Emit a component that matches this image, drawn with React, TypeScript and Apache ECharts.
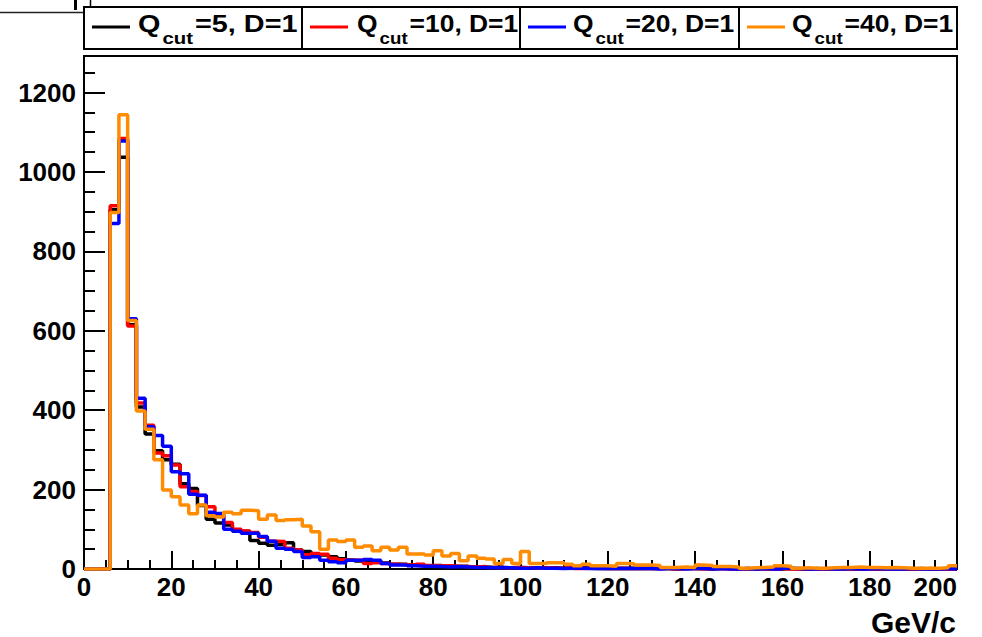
import React, { useEffect, useRef } from "react";
import * as echarts from "echarts";

// Histogram binning (GeV/c)
const X_MIN = 0;
const X_MAX = 200;
const BIN_WIDTH = 2;
const Y_MAX = 1292;

const legendLabels = ["=5, D=1", "=10, D=1", "=20, D=1", "=40, D=1"];
const seriesColors = ["#000000", "#ff0000", "#0000ff", "#ff8c00"];

// Bin contents, 100 bins of width 2 starting at 0
const qcut5 = [
  0, 0, 0, 905, 1037, 615, 408, 340, 298, 275,
  264, 215, 203, 160, 125, 116, 111, 98, 95, 72,
  65, 60, 62, 66, 48, 44, 35, 35, 31, 26,
  22, 20, 18, 17, 15, 12, 12, 10, 10, 8,
  9, 7, 6, 7, 5, 5, 4, 5, 3, 4,
  3, 3, 2, 3, 2, 2, 3, 2, 1, 2,
  1, 2, 1, 1, 2, 1, 1, 0, 1, 1,
  1, 0, 1, 1, 0, 1, 0, 1, 0, 0,
  1, 0, 0, 1, 0, 0, 1, 0, 0, 0,
  0, 1, 0, 0, 0, 1, 0, 0, 0, 0,
];

const qcut10 = [
  0, 0, 0, 915, 1084, 612, 418, 362, 292, 285,
  262, 207, 195, 185, 157, 135, 117, 100, 96, 92,
  80, 70, 69, 52, 48, 36, 39, 37, 27, 23,
  22, 22, 14, 16, 14, 12, 11, 10, 12, 9,
  8, 8, 7, 6, 5, 6, 4, 4, 3, 4,
  3, 2, 3, 2, 2, 3, 1, 2, 2, 1,
  2, 1, 1, 2, 1, 1, 1, 0, 1, 1,
  0, 1, 1, 0, 1, 0, 1, 0, 0, 1,
  0, 0, 1, 0, 0, 1, 0, 0, 1, 0,
  0, 0, 1, 0, 0, 0, 1, 0, 0, 0,
];

const qcut20 = [
  0, 0, 0, 870, 1078, 630, 430, 358, 336, 309,
  245, 240, 188, 186, 143, 140, 100, 95, 90, 90,
  82, 70, 52, 50, 44, 29, 31, 22, 18, 16,
  22, 22, 24, 22, 14, 10, 10, 8, 7, 7,
  6, 5, 6, 5, 4, 4, 3, 4, 3, 2,
  2, 3, 2, 2, 1, 2, 2, 1, 1, 2,
  1, 1, 2, 1, 1, 0, 1, 1, 0, 1,
  1, 0, 1, 0, 0, 1, 0, 1, 0, 0,
  2, 1, 0, 0, 1, 0, 0, 1, 0, 0,
  1, 0, 0, 0, 1, 0, 0, 0, 1, 0,
];

const qcut40 = [
  0, 0, 0, 898, 1144, 626, 398, 352, 275, 199,
  182, 161, 139, 161, 134, 131, 143, 139, 148, 147,
  125, 136, 122, 124, 125, 108, 94, 50, 73, 69,
  73, 55, 58, 46, 55, 48, 55, 38, 38, 35,
  46, 33, 39, 21, 33, 27, 25, 14, 24, 14,
  44, 14, 14, 16, 16, 12, 8, 12, 8, 8,
  7, 14, 13, 10, 10, 9, 4, 4, 5, 4,
  10, 9, 6, 6, 5, 2, 3, 4, 5, 8,
  7, 2, 3, 2, 2, 3, 4, 4, 5, 4,
  4, 3, 4, 3, 2, 2, 2, 2, 3, 8,
];

const histograms = [qcut5, qcut10, qcut20, qcut40];

function toSteps(vals: number[]): number[][] {
  const pts = vals.map((v, i) => [X_MIN + i * BIN_WIDTH, v]);
  pts.push([X_MAX, vals[vals.length - 1]]);
  return pts;
}

const FONT = "Liberation Sans";

export default function App() {
  const ref = useRef<HTMLDivElement>(null);

  useEffect(() => {
    if (!ref.current) return;
    const chart = echarts.init(ref.current, null, { renderer: "svg" });

    const legendLeft = 84;
    const legendRight = 957;
    const legendTop = 7;
    const legendH = 42;
    const dividers = [302, 520, 739];
    const boxLefts = [84, 302, 520, 739];
    const textStart = [138, 357, 573, 792];
    const textScale = [1.2, 1.1, 1.1, 1.1];

    const graphic: any[] = [
      // remnants of an upper pad at the top-left
      { type: "line", shape: { x1: 0, y1: 12.5, x2: 83, y2: 12.5 }, style: { stroke: "#222", lineWidth: 1.5 }, z: 10 },
      { type: "rect", shape: { x: 74, y: 0, width: 3, height: 10 }, style: { fill: "#000" }, z: 10 },
      { type: "line", shape: { x1: 90.5, y1: 0, x2: 90.5, y2: 6 }, style: { stroke: "#000", lineWidth: 1.5 }, z: 10 },
      // legend frame
      {
        type: "rect",
        shape: { x: legendLeft, y: legendTop, width: legendRight - legendLeft, height: legendH },
        style: { fill: "#fff", stroke: "#000", lineWidth: 2 },
        z: 10,
      },
      ...dividers.map((x) => ({
        type: "line",
        shape: { x1: x, y1: legendTop, x2: x, y2: legendTop + legendH },
        style: { stroke: "#000", lineWidth: 2 },
        z: 11,
      })),
    ];

    boxLefts.forEach((bx, i) => {
      const s = textScale[i];
      const qx = textStart[i];
      const cutX = qx + 18.7 * s + 2;
      const restX = cutX + 25.5 * s + 2;
      graphic.push({
        type: "line",
        shape: { x1: bx + 8, y1: 27, x2: bx + 46, y2: 27 },
        style: { stroke: seriesColors[i], lineWidth: 3 },
        z: 12,
      });
      graphic.push({
        type: "text",
        x: qx,
        y: 23.7,
        scaleX: s,
        style: { text: "Q", fontFamily: FONT, fontWeight: "bold", fontSize: 24, fill: "#000", verticalAlign: "middle", align: "left" },
        z: 12,
      });
      graphic.push({
        type: "text",
        x: cutX,
        y: 38.2,
        scaleX: s,
        style: { text: "cut", fontFamily: FONT, fontWeight: "bold", fontSize: 17, fill: "#000", verticalAlign: "middle", align: "left" },
        z: 12,
      });
      graphic.push({
        type: "text",
        x: restX,
        y: 23.7,
        scaleX: s,
        style: { text: legendLabels[i], fontFamily: FONT, fontWeight: "bold", fontSize: 24, fill: "#000", verticalAlign: "middle", align: "left" },
        z: 12,
      });
    });

    graphic.push({
      type: "text",
      x: 956,
      y: 622,
      style: {
        text: "GeV/c",
        fontFamily: FONT,
        fontWeight: "bold",
        fontSize: 30,
        lineHeight: 26,
        fill: "#000",
        verticalAlign: "middle",
        align: "right",
      },
      z: 12,
    });

    const axisLineStyle = { color: "#000", width: 2 };
    const labelStyle = { color: "#000", fontFamily: FONT, fontWeight: "bold" as const, fontSize: 26 };

    const option: any = {
      animation: false,
      backgroundColor: "#ffffff",
      grid: {
        left: 84,
        right: 25,
        top: 56,
        bottom: 68,
        show: true,
        borderColor: "#000",
        borderWidth: 2,
        backgroundColor: "transparent",
      },
      xAxis: {
        type: "value",
        min: X_MIN,
        max: X_MAX,
        interval: 20,
        axisLine: { show: true, onZero: false, lineStyle: axisLineStyle },
        axisTick: { show: true, inside: true, length: 18, lineStyle: axisLineStyle },
        minorTick: { show: true, splitNumber: 4, length: 9, lineStyle: axisLineStyle },
        axisLabel: { ...labelStyle, margin: 5, alignMaxLabel: "right", formatter: (v: number) => String(v) },
        splitLine: { show: false },
        minorSplitLine: { show: false },
      },
      yAxis: [
        {
          type: "value",
          min: 0,
          max: Y_MAX,
          interval: 200,
          axisLine: { show: true, onZero: false, lineStyle: axisLineStyle },
          axisTick: { show: true, inside: true, length: 21, lineStyle: axisLineStyle },
          axisLabel: { ...labelStyle, margin: 8, showMaxLabel: false, formatter: (v: number) => String(v) },
          splitLine: { show: false },
        },
        {
          type: "value",
          min: 0,
          max: Y_MAX,
          interval: 50,
          position: "left",
          offset: 0,
          axisLine: { show: false },
          axisTick: { show: true, inside: true, length: 11, lineStyle: axisLineStyle },
          axisLabel: { show: false },
          splitLine: { show: false },
        },
      ],
      series: histograms.map((h, i) => ({
        type: "line",
        step: "end",
        data: toSteps(h),
        symbol: "none",
        showSymbol: false,
        clip: false,
        lineStyle: { color: seriesColors[i], width: 3.5 },
        itemStyle: { color: seriesColors[i] },
        z: 2 + i,
      })),
      graphic,
    };

    chart.setOption(option);
    return () => chart.dispose();
  }, []);

  return (
    <div
      ref={ref}
      style={{ position: "absolute", left: 0, top: 0, width: 982, height: 637, background: "#fff" }}
    />
  );
}
